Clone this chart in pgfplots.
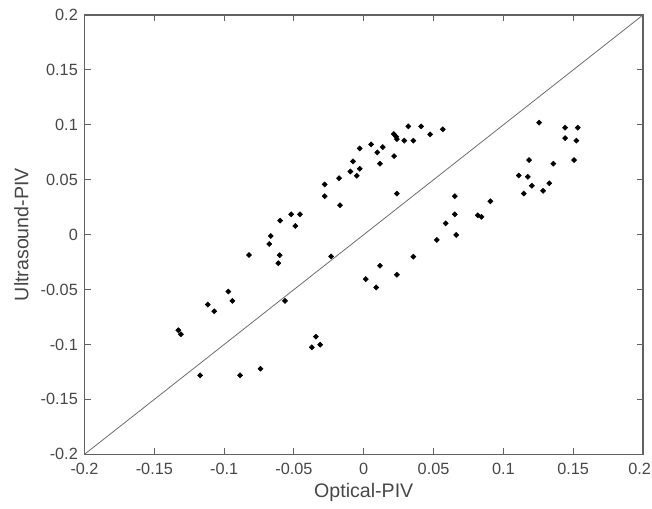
\documentclass[border=0pt]{standalone}
\usepackage{pgfplots}
\pgfplotsset{compat=1.18}
\usepackage{fontspec}
\setmainfont{Liberation Sans}
\definecolor{axgray}{gray}{0.38}
\definecolor{txtgray}{gray}{0.28}
\begin{document}
\begin{tikzpicture}
\useasboundingbox (-63.4pt,-40.3pt) rectangle (425.65pt,340.75pt);
\begin{axis}[
  at={(0pt,0pt)}, anchor=south west,
  scale only axis,
  width=418.9pt, height=329.5pt,
  xmin=-0.2, xmax=0.2, ymin=-0.2, ymax=0.2,
  xtick={-0.2,-0.15,-0.1,-0.05,0,0.05,0.1,0.15,0.2},
  xticklabels={-0.2,-0.15,-0.1,-0.05,0,0.05,0.1,0.15,\hspace{-5pt}0.2},
  ytick={-0.2,-0.15,-0.1,-0.05,0,0.05,0.1,0.15,0.2},
  yticklabels={-0.2,-0.15,-0.1,-0.05,0,0.05,0.1,0.15,0.2},
  tick align=inside,
  major tick length=4.5pt,
  axis line style={axgray, line width=0.8pt},
  every tick/.style={axgray, line width=0.8pt},
  tick label style={font=\fontsize{12.2}{14}\selectfont, text=txtgray},
  xticklabel style={yshift=-2.8pt},
  yticklabel style={xshift=-1.5pt},
  label style={font=\fontsize{14.7}{17}\selectfont, text=txtgray},
  xlabel={Optical-PIV},
  ylabel={Ultrasound-PIV},
  ylabel style={at={(ticklabel cs:0.5,2.2pt)}},
]
\addplot[gray!85!black, line width=0.6pt] coordinates {(-0.2,-0.2) (0.2,0.2)};
\addplot[only marks, mark=square*, mark size=1.35pt, black,
  every mark/.append style={rotate=45}] coordinates {
(-0.0822,-0.0185) (-0.0666,-0.0012) (-0.0677,-0.0085) (-0.0599,0.0128)
(-0.0520,0.0185) (-0.0457,0.0185) (-0.0490,0.0079) (-0.0602,-0.0187)
(-0.0612,-0.0260) (-0.0280,0.0457) (-0.0280,0.0350) (-0.0177,0.0514)
(-0.0170,0.0268) (-0.0234,-0.0198) (-0.0096,0.0575) (-0.0077,0.0667)
(-0.0029,0.0600) (-0.0050,0.0536) (-0.0029,0.0785) (0.0053,0.0822)
(0.0097,0.0749) (0.0136,0.0797) (0.0116,0.0646) (0.0215,0.0916)
(0.0232,0.0892) (0.0237,0.0870) (0.0217,0.0715) (0.0319,0.0986)
(0.0411,0.0986) (0.0290,0.0856) (0.0355,0.0856) (0.0475,0.0913)
(0.0566,0.0959) (0.0237,0.0374) (0.0652,0.0350) (0.0652,0.0185)
(0.0587,0.0103) (0.0662,-0.0003) (0.0523,-0.0048) (0.0355,-0.0201)
(0.0116,-0.0283) (0.0237,-0.0365) (0.0014,-0.0405) (0.0089,-0.0481)
(0.1256,0.1020) (0.1442,0.0974) (0.1533,0.0974) (0.1442,0.0879)
(0.1523,0.0856) (0.1184,0.0679) (0.1358,0.0646) (0.1506,0.0679)
(0.1110,0.0539) (0.1175,0.0527) (0.1204,0.0445) (0.1329,0.0468)
(0.1146,0.0374) (0.1284,0.0399) (0.0907,0.0304) (0.0817,0.0176)
(0.0843,0.0162) (-0.0970,-0.0518) (-0.0941,-0.0603) (-0.1117,-0.0637)
(-0.1071,-0.0697) (-0.1328,-0.0870) (-0.1310,-0.0907) (-0.0564,-0.0603)
(-0.0343,-0.0929) (-0.0372,-0.1026) (-0.0312,-0.1002) (-0.1172,-0.1281)
(-0.0886,-0.1281) (-0.0740,-0.1221)
};
\end{axis}
\end{tikzpicture}
\end{document}
